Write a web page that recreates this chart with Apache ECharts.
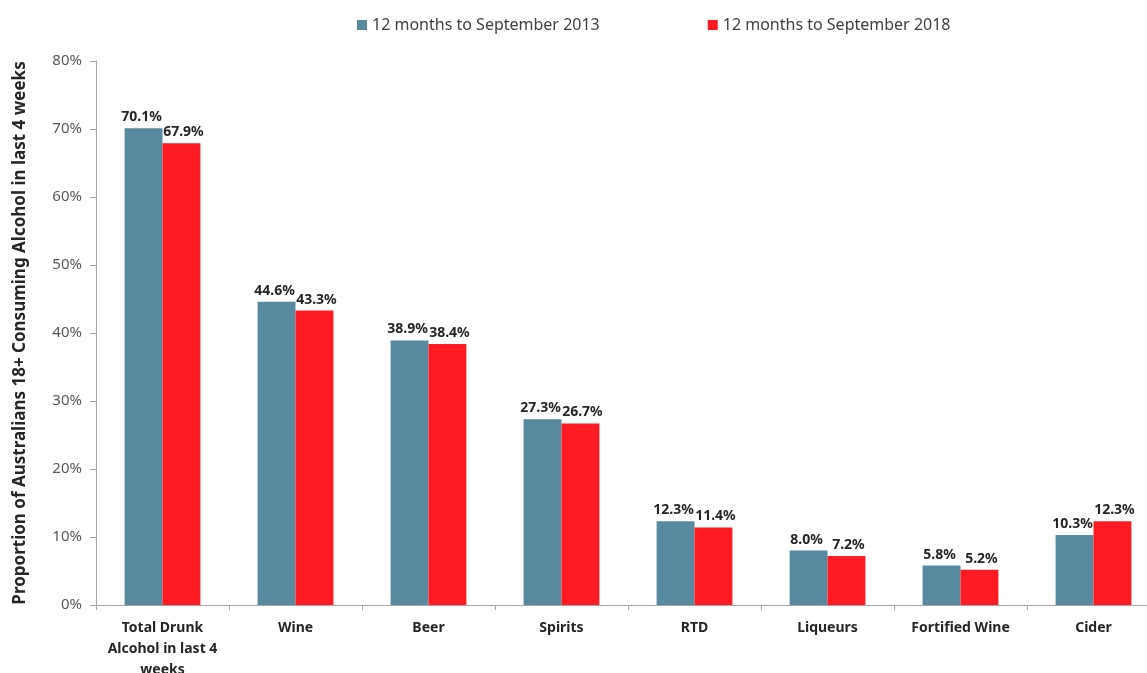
<!DOCTYPE html>
<html>
<head>
<meta charset="utf-8">
<script src="https://cdn.jsdelivr.net/npm/echarts@6/dist/echarts.min.js"></script>
<style>
  html, body { margin: 0; padding: 0; background: #fff; overflow: hidden; }
  #barChart { width: 1147px; height: 673px; }
</style>
</head>
<body>
<div id="barChart"></div>
<script>
// categories and values (% of Australians 18+)
var categories = ['Total Drunk\nAlcohol in last 4\nweeks', 'Wine', 'Beer', 'Spirits', 'RTD', 'Liqueurs', 'Fortified Wine', 'Cider'];
var sep2013 = [70.1, 44.6, 38.9, 27.3, 12.3, 8.0, 5.8, 10.3];
var sep2018 = [67.9, 43.3, 38.4, 26.7, 11.4, 7.2, 5.2, 12.3];
var seriesNames = ['12 months to September 2013', '12 months to September 2018'];
var yTicks = [0, 10, 20, 30, 40, 50, 60, 70, 80];

var fontName = 'Noto Sans';

function pct(p) {
    return p.value.toFixed(1) + '%';
}

var chart = echarts.init(document.getElementById('barChart'));
var option = {
    animation: false,
    textStyle: { fontFamily: fontName },
    legend: {
        top: 12,
        left: 352,
        itemWidth: 10,
        itemHeight: 10,
        itemGap: 108,
        icon: 'rect',
        textStyle: { fontSize: 16, color: '#404040', fontFamily: fontName },
        data: seriesNames
    },
    // plot runs a bit past the right edge, as in the source
    grid: {
        left: 96, width: 1064, top: 61, height: 544,
        containLabel: false,
        outerBoundsMode: 'none'
    },
    xAxis: {
        type: 'category',
        data: categories,
        axisLine: { show: true, lineStyle: { color: '#a6a6a6', width: 1 } },
        axisTick: { show: true, length: 5, lineStyle: { color: '#a6a6a6' } },
        axisLabel: {
            fontSize: 14,
            fontWeight: 'bold',
            color: '#262626',
            margin: 13,
            lineHeight: 21,
            interval: 0
        }
    },
    yAxis: {
        type: 'value',
        min: yTicks[0],
        max: yTicks[yTicks.length - 1],
        interval: 10,
        name: 'Proportion of Australians 18+ Consuming Alcohol in last 4 weeks',
        nameLocation: 'middle',
        nameGap: 67,
        nameTextStyle: { fontSize: 17, fontWeight: 'bold', color: '#262626' },
        axisLine: { show: true, lineStyle: { color: '#a6a6a6', width: 1 } },
        axisTick: { show: true, length: 6, lineStyle: { color: '#a6a6a6' } },
        splitLine: { show: false },
        axisLabel: {
            fontSize: 15,
            color: '#595959',
            margin: 14,
            formatter: function (v) { return v + '%'; }
        }
    },
    series: [
        {
            name: seriesNames[0],
            type: 'bar',
            data: sep2013,
            barGap: '0%',
            barCategoryGap: '43%',
            itemStyle: { color: '#578a9f' },
            label: {
                show: true,
                position: 'top',
                distance: 4,
                offset: [-2, 0],
                fontSize: 14,
                fontWeight: 'bold',
                color: '#262626',
                formatter: pct
            }
        },
        {
            name: seriesNames[1],
            type: 'bar',
            data: sep2018,
            barGap: '0%',
            barCategoryGap: '43%',
            itemStyle: { color: '#ff1b24' },
            label: {
                show: true,
                position: 'top',
                distance: 4,
                offset: [2, 0],
                fontSize: 14,
                fontWeight: 'bold',
                color: '#262626',
                formatter: pct
            }
        }
    ]
};
chart.setOption(option, true);
</script>
</body>
</html>
